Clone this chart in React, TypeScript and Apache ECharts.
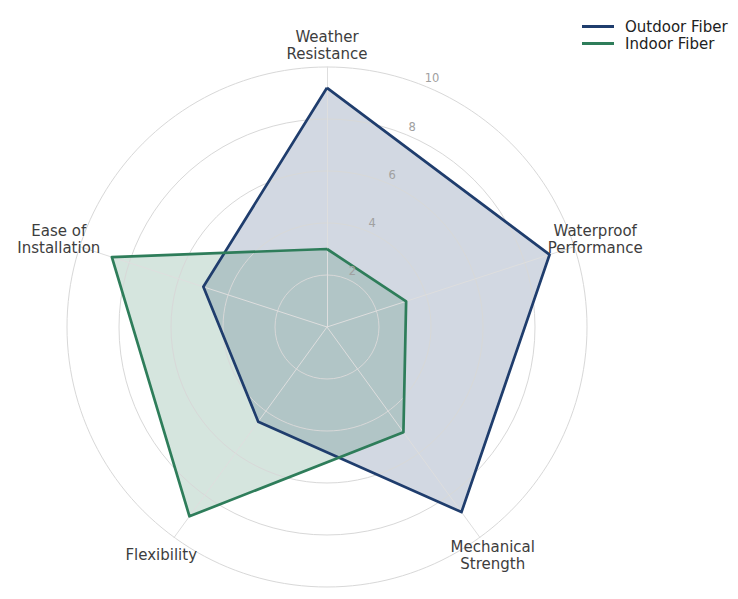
import React, { useEffect, useRef } from "react";
import * as echarts from "echarts";

const categories = [
  "Weather\nResistance",
  "Waterproof\nPerformance",
  "Mechanical\nStrength",
  "Flexibility",
  "Ease of\nInstallation",
];
const outdoorFiber = [9.2, 9.0, 8.8, 4.5, 5.0];
const indoorFiber = [3.0, 3.2, 5.0, 9.0, 8.7];
const tickLabels = [2, 4, 6, 8, 10];
const seriesNames = ["Outdoor Fiber", "Indoor Fiber"];
const seriesColors = ["#1f3d6d", "#2e7d5a"];
const seriesFills = ["rgba(31,61,109,0.2)", "rgba(46,125,90,0.2)"];

const CX = 327;
const CY = 327;
const R = 260;
const MAX = 10;

export default function App() {
  const ref = useRef<HTMLDivElement>(null);
  useEffect(() => {
    if (!ref.current) return;
    const chart = echarts.init(ref.current, null, { renderer: "svg" });
    // ECharts places radar indicators counter-clockwise; reorder to draw clockwise
    const order = [0, ...categories.map((_, i) => i).slice(1).reverse()];
    const indicator = order.map((i) => ({ name: categories[i], min: 0, max: MAX }));
    const reorder = (arr: number[]) => order.map((i) => arr[i]);
    const dataSets = [outdoorFiber, indoorFiber];

    const baseRadar = {
      center: [CX, CY],
      radius: R,
      startAngle: 90,
      shape: "circle" as const,
      splitNumber: 5,
      indicator,
      axisName: { show: false },
      axisLabel: { show: false },
      axisTick: { show: false },
      splitArea: { show: false },
    };

    const graphics: any[] = [];
    categories.forEach((c, i) => {
      const a = (i * 72 * Math.PI) / 180;
      graphics.push({
        type: "text",
        x: CX + 282 * Math.sin(a),
        y: CY - 282 * Math.cos(a),
        style: {
          text: c,
          fill: "#3d3d3d",
          font: '15px "DejaVu Sans"',
          align: "center",
          verticalAlign: "middle",
          lineHeight: 17,
        },
        z: 10,
      });
    });
    const la = (22.5 * Math.PI) / 180;
    tickLabels.forEach((t) => {
      const rr = (t / MAX) * R + 9;
      graphics.push({
        type: "text",
        x: CX + rr * Math.sin(la) + 2,
        y: CY - rr * Math.cos(la),
        style: {
          text: String(t),
          fill: "#a0a0a0",
          font: '11.5px "DejaVu Sans"',
          align: "center",
          verticalAlign: "middle",
        },
        z: 10,
      });
    });

    chart.setOption({
      animation: false,
      backgroundColor: "#fff",
      legend: {
        orient: "vertical",
        left: 577,
        top: 14,
        itemWidth: 32,
        itemHeight: 3,
        itemGap: 2,
        icon: "rect",
        data: seriesNames,
        textStyle: {
          fontFamily: "DejaVu Sans",
          fontSize: 15,
          color: "#222",
          padding: [0, 0, 0, 6],
        },
      },
      radar: [
        {
          ...baseRadar,
          z: 0,
          axisLine: { show: false },
          splitLine: { show: false },
        },
        {
          ...baseRadar,
          z: 3,
          axisLine: { show: true, lineStyle: { color: "#dedede", width: 1 } },
          splitLine: { show: true, lineStyle: { color: "#d8d8d8", width: 1 } },
        },
      ],
      graphic: graphics,
      series: [
        {
          type: "radar",
          radarIndex: 0,
          z: 1,
          symbol: "none",
          silent: true,
          data: dataSets.map((d, k) => ({
            name: seriesNames[k],
            value: reorder(d),
            itemStyle: { color: seriesColors[k] },
            lineStyle: { width: 0, color: seriesColors[k] },
            areaStyle: { color: seriesFills[k], opacity: 1 },
          })),
        },
        {
          type: "radar",
          radarIndex: 1,
          z: 5,
          symbol: "none",
          data: dataSets.map((d, k) => ({
            name: seriesNames[k],
            value: reorder(d),
            itemStyle: { color: seriesColors[k] },
            lineStyle: { width: 2.7, color: seriesColors[k] },
          })),
        },
      ],
    });
    return () => chart.dispose();
  }, []);
  return (
    <div
      ref={ref}
      style={{ position: "fixed", left: 0, top: 0, width: 738, height: 599 }}
    />
  );
}
